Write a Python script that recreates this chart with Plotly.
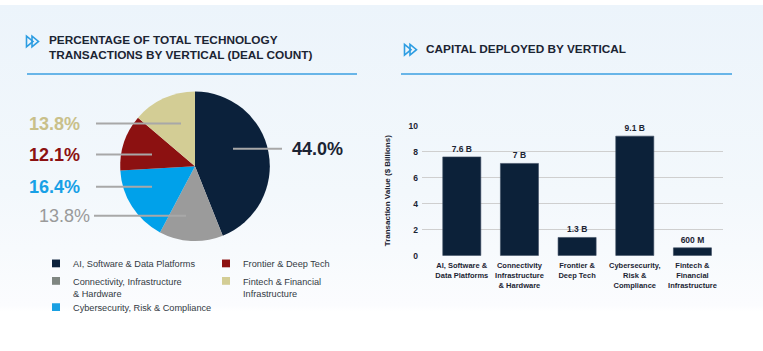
import base64
import plotly.graph_objects as go

W, H = 763, 351

# ---- data ----
pie_labels = ["AI, Software & Data Platforms", "Connectivity, Infrastructure & Hardware",
              "Cybersecurity, Risk & Compliance", "Frontier & Deep Tech",
              "Fintech & Financial Infrastructure"]
pie_values = [44.0, 13.8, 16.4, 12.1, 13.8]
pie_colors = ["#0b213b", "#9b9b9b", "#00a1ea", "#8c1111", "#d3cd95"]
legend_colors = ["#0b213b", "#7f8681", "#1aa0e2", "#8c1111", "#d3cd95"]
legend_text = ["AI, Software & Data Platforms", "Connectivity, Infrastructure<br>& Hardware",
               "Cybersecurity, Risk & Compliance", "Frontier & Deep Tech",
               "Fintech & Financial<br>Infrastructure"]

bar_categories = ["AI, Software &<br>Data Platforms", "Connectivity<br>Infrastructure<br>& Hardware",
                  "Frontier &<br>Deep Tech", "Cybersecurity,<br>Risk &<br>Compliance",
                  "Fintech &<br>Financial<br>Infrastructure"]
bar_values = [7.6, 7.1, 1.4, 9.2, 0.6]
bar_text = ["7.6 B", "7 B", "1.3 B", "9.1 B", "600 M"]
y_ticks = [0, 2, 4, 6, 8, 10]


def px(x):
    return x / W


def py(y):
    return 1 - y / H


fig = go.Figure()

# pie
cx, cy, r = 195, 166, 77
fig.add_trace(go.Pie(
    labels=pie_labels, values=pie_values, sort=False, direction="clockwise", rotation=0,
    marker=dict(colors=pie_colors, line=dict(width=0)), textinfo="none", hoverinfo="label+percent",
    showlegend=False,
    domain=dict(x=[px(cx - r), px(cx + r)], y=[py(cy + r), py(cy - r)]),
))

# bars
fig.add_trace(go.Bar(
    x=bar_categories, y=bar_values, text=bar_text, textposition="outside",
    textfont=dict(size=8.5, color="#1b2433", family="Liberation Sans", weight="bold"),
    marker=dict(color="#0c2139", line=dict(color="#3a4a60", width=0.6)),
    width=0.66, cliponaxis=False, showlegend=False,
))

fig.update_layout(
    width=W, height=H, margin=dict(l=0, r=0, t=0, b=0),
    paper_bgcolor="rgba(0,0,0,0)", plot_bgcolor="rgba(0,0,0,0)",
    font=dict(family="Liberation Sans", color="#1b2433"),
    xaxis=dict(domain=[px(422), px(723)], range=[-0.69, 4.53], showgrid=False, showline=False,
               ticks="", tickfont=dict(size=7.5, color="#1b2433", weight="bold"), tickangle=0,
               ticklabelstandoff=4, fixedrange=True),
    yaxis=dict(domain=[py(258), py(124.3)], range=[0, 10], tickvals=y_ticks,
               gridcolor="#cfcfcf", gridwidth=1, zeroline=False, showline=False,
               tickfont=dict(size=8.5, color="#1b2433", weight="bold"), ticks="", ticklabelstandoff=3,
               title=dict(text="Transaction Value ($ Billions)", font=dict(size=8, weight="bold"),
                          standoff=16)),
)

# background gradient
svg = ('<svg xmlns="http://www.w3.org/2000/svg" width="763" height="351">'
       '<defs><linearGradient id="g" x1="0" y1="0" x2="0" y2="1">'
       '<stop offset="0" stop-color="#ecf4fb"/><stop offset="0.55" stop-color="#f3f8fc"/>'
       '<stop offset="0.88" stop-color="#fbfcfe"/><stop offset="0.9" stop-color="#ffffff"/>'
       '<stop offset="1" stop-color="#ffffff"/></linearGradient></defs>'
       '<rect width="763" height="351" fill="url(#g)"/></svg>')
uri = "data:image/svg+xml;base64," + base64.b64encode(svg.encode()).decode()
fig.add_layout_image(dict(source=uri, xref="paper", yref="paper", x=0, y=1, sizex=1, sizey=1,
                          sizing="stretch", layer="below", xanchor="left", yanchor="top"))

shapes = []
ann = []

# titles
title_font = dict(family="Liberation Sans", size=11.8, color="#1b2433", weight="bold")
ann.append(dict(text="PERCENTAGE OF TOTAL TECHNOLOGY<br>TRANSACTIONS BY VERTICAL (DEAL COUNT)",
                x=px(47), y=py(27), xref="paper", yref="paper", xanchor="left", yanchor="top",
                showarrow=False, align="left", font=title_font))
ann.append(dict(text="CAPITAL DEPLOYED BY VERTICAL", x=px(424), y=py(45.5), xref="paper", yref="paper",
                xanchor="left", yanchor="middle", showarrow=False, font=title_font))


def icon(x0, yc):
    for dx in (0, 5.5):
        a = x0 + dx
        path = (f"M {px(a)},{py(yc - 5.5)} L {px(a + 6.5)},{py(yc)} L {px(a)},{py(yc + 5.5)} Z")
        shapes.append(dict(type="path", path=path, xref="paper", yref="paper",
                           line=dict(color="#2d9de2", width=1.6), fillcolor="rgba(0,0,0,0)"))


icon(26.5, 37.5)
icon(404.5, 46)

# underline rules
for x0, x1 in ((27, 357), (401, 732)):
    shapes.append(dict(type="line", xref="paper", yref="paper", x0=px(x0), x1=px(x1),
                       y0=py(71), y1=py(71), line=dict(color="#3b9fe2", width=1.6)))

# pie leader lines and labels
lab_specs = [  # (text, color, text_right_x, y, line_x0, line_x1, weight)
    (f"{pie_values[4]:.1f}%", "#c9c08a", 82, 122, 96, 181, "bold"),
    (f"{pie_values[3]:.1f}%", "#8c1111", 82, 154, 96, 152, "bold"),
    (f"{pie_values[2]:.1f}%", "#18a0e6", 82, 187, 96, 152, "bold"),
    (f"{pie_values[1]:.1f}%", "#9a9a9a", 92, 217, 94, 186, "normal"),
]
for t, c, xr, y, l0, l1, wgt in lab_specs:
    shapes.append(dict(type="line", xref="paper", yref="paper", x0=px(l0), x1=px(l1),
                       y0=py(y), y1=py(y), line=dict(color="#a8a8a8", width=2)))
    ann.append(dict(text=t, x=px(xr), y=py(y), xref="paper", yref="paper", xanchor="right",
                    yanchor="middle", showarrow=False,
                    font=dict(family="Liberation Sans", size=18, color=c, weight=wgt)))
shapes.append(dict(type="line", xref="paper", yref="paper", x0=px(233), x1=px(282),
                   y0=py(148), y1=py(148), line=dict(color="#a8a8a8", width=2)))
ann.append(dict(text=f"{pie_values[0]:.1f}%", x=px(290), y=py(148), xref="paper", yref="paper",
                xanchor="left", yanchor="middle", showarrow=False,
                font=dict(family="Liberation Sans", size=18, color="#1b2433", weight="bold")))

# custom legend
leg_pos = [(52, 266), (52, 284), (52, 311), (222, 266), (222, 284)]
for (x, y), c, t in zip(leg_pos, legend_colors, legend_text):
    shapes.append(dict(type="rect", xref="paper", yref="paper", x0=px(x), x1=px(x + 8),
                       y0=py(y - 4), y1=py(y + 4), fillcolor=c, line=dict(width=0)))
    ann.append(dict(text=t, x=px(x + 19), y=py(y - 6.5), xref="paper", yref="paper", xanchor="left",
                    yanchor="top", showarrow=False, align="left",
                    font=dict(family="Liberation Sans", size=9.2, color="#333a44")))

fig.update_layout(shapes=shapes, annotations=ann)
fig.write_html("out.html")
